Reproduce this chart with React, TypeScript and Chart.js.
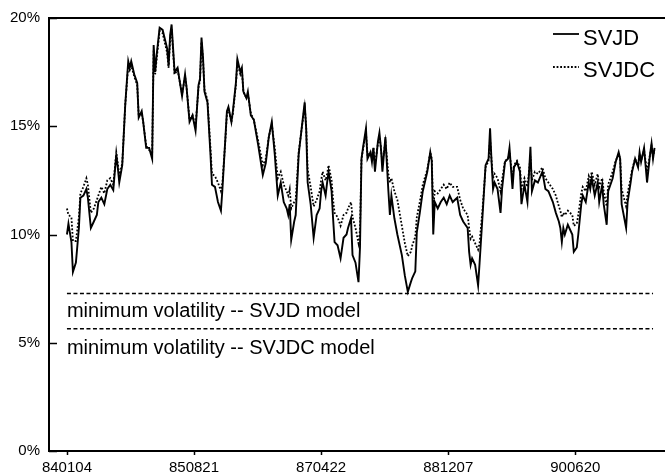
import React, { useEffect, useRef } from 'react';
import { Chart, registerables } from 'chart.js';

Chart.register(...registerables);

// week index since 840104 (weekly observations)
const WEEKS = [
  0, 1, 3, 4, 6, 8, 9, 11, 13, 14,
  16, 18, 20, 21, 23, 25, 27, 29, 31, 33,
  34, 35, 37, 39, 41, 42, 43, 45, 47, 48,
  50, 51, 53, 55, 57, 58, 59, 60, 62, 64,
  67, 68, 69, 70, 72, 74, 77, 79, 80, 82,
  84, 86, 88, 89, 90, 91, 92, 94, 96, 97,
  99, 101, 103, 104, 106, 107, 108, 110, 111, 113,
  114, 116, 117, 118, 120, 121, 123, 125, 128, 131,
  133, 135, 137, 139, 141, 143, 145, 147, 148, 149,
  150, 152, 153, 155, 157, 159, 160, 161, 163, 165,
  167, 169, 170, 171, 173, 174, 175, 177, 178, 179,
  181, 183, 185, 187, 188, 190, 191, 193, 195, 196,
  197, 198, 200, 201, 203, 204, 205, 206, 208, 209,
  210, 211, 213, 215, 216, 217, 219, 221, 224, 226,
  228, 230, 231, 233, 234, 236, 238, 241, 243, 244,
  245, 246, 248, 250, 252, 254, 256, 258, 261, 263,
  265, 268, 269, 270, 271, 273, 275, 276, 278, 280,
  282, 283, 284, 285, 286, 288, 290, 291, 293, 295,
  296, 298, 299, 301, 303, 304, 306, 308, 310, 311,
  313, 315, 318, 320, 322, 325, 327, 329, 330, 331,
  332, 333, 335, 338, 339, 341, 342, 344, 345, 347,
  349, 350, 351, 353, 355, 356, 358, 359, 361, 362,
  365, 367, 369, 370, 371, 374, 375, 377, 378, 380,
  382, 383, 384, 386, 388, 390, 391, 392, 393,
];

const SVJD = [
  10.0, 10.5, 9.65, 8.27, 8.7, 10.3, 11.7, 11.8, 12.1, 11.7,
  10.3, 10.6, 10.9, 11.5, 11.7, 11.4, 12.1, 12.3, 12.05, 13.7,
  13.1, 12.4, 13.2, 16.0, 18.0, 17.7, 18.0, 17.4, 17.0, 15.4,
  15.7, 15.2, 14.0, 14.0, 13.5, 18.75, 17.5, 18.3, 19.55, 19.45,
  18.6, 17.8, 19.2, 19.7, 17.5, 17.7, 16.4, 17.4, 16.8, 15.2,
  15.5, 14.8, 16.9, 17.2, 19.1, 18.2, 16.6, 16.1, 13.7, 12.3,
  12.2, 11.5, 11.1, 12.1, 14.5, 15.7, 15.9, 15.2, 15.7, 17.0,
  18.1, 17.5, 17.7, 16.6, 16.3, 16.6, 15.5, 15.3, 14.1, 12.75,
  13.3, 14.5, 15.2, 13.7, 11.8, 12.4, 11.5, 11.2, 10.9, 11.4,
  9.75, 10.6, 10.9, 13.7, 14.9, 16.1, 14.9, 12.4, 11.4, 9.85,
  10.9, 11.2, 12.0, 12.4, 11.8, 12.4, 12.9, 12.0, 10.75, 9.65,
  9.5, 8.9, 9.85, 10.0, 10.3, 10.75, 9.05, 8.7, 7.8, 9.4,
  13.5, 14.0, 14.9, 13.5, 13.8, 13.35, 14.0, 12.9, 14.3, 14.7,
  14.0, 12.9, 14.5, 12.0, 10.9, 11.8, 10.75, 10.0, 9.05, 8.1,
  7.35, 7.8, 8.0, 8.3, 10.1, 11.0, 12.0, 12.9, 13.8, 13.4,
  10.0, 11.5, 11.2, 11.5, 11.7, 11.4, 11.8, 11.5, 11.7, 10.9,
  10.6, 10.3, 9.2, 8.6, 8.9, 8.6, 7.65, 8.7, 10.9, 13.2,
  13.5, 14.9, 13.35, 12.1, 12.4, 12.1, 11.0, 12.1, 13.35, 13.5,
  14.0, 12.1, 13.1, 13.35, 12.9, 11.4, 12.3, 11.5, 14.05, 12.0,
  12.5, 12.4, 12.9, 12.1, 12.0, 11.5, 11.0, 10.6, 10.3, 9.65,
  10.3, 10.0, 10.45, 10.0, 9.2, 9.4, 10.0, 11.4, 11.8, 11.5,
  12.4, 12.1, 12.6, 11.8, 12.4, 11.5, 12.3, 11.4, 10.45, 12.0,
  12.6, 13.35, 13.8, 13.5, 11.4, 10.3, 11.5, 12.4, 12.9, 13.5,
  13.1, 13.8, 13.35, 14.0, 12.4, 13.7, 14.2, 13.5, 14.0,
];

const SVJDC = [
  11.2, 10.9, 10.8, 9.7, 9.7, 10.8, 11.9, 12.2, 12.6, 12.3,
  11.0, 11.2, 11.6, 11.8, 12.2, 11.9, 12.5, 12.6, 12.3, 13.8,
  13.3, 12.7, 13.3, 16.0, 17.8, 17.6, 17.8, 17.3, 16.9, 15.5,
  15.6, 15.2, 14.1, 13.9, 13.7, 18.5, 17.4, 18.1, 19.4, 19.3,
  18.4, 17.7, 19.0, 19.5, 17.4, 17.6, 16.5, 17.3, 16.8, 15.3,
  15.5, 15.0, 16.8, 17.1, 18.9, 18.1, 16.7, 16.2, 14.0, 12.8,
  12.7, 12.4, 12.0, 12.4, 14.4, 15.6, 15.8, 15.2, 15.6, 16.9,
  17.9, 17.4, 17.6, 16.6, 16.3, 16.5, 15.6, 15.3, 14.3, 13.2,
  13.5, 14.5, 15.1, 14.0, 12.6, 12.9, 12.3, 12.0, 11.8, 12.1,
  11.2, 11.5, 11.6, 13.8, 14.9, 15.9, 15.0, 13.0, 12.2, 11.3,
  11.6, 12.0, 12.5, 12.9, 12.5, 12.8, 13.2, 12.5, 11.6, 11.0,
  10.8, 10.4, 10.9, 11.0, 11.2, 11.5, 10.8, 10.3, 9.6, 10.2,
  13.5, 13.9, 14.7, 13.7, 13.8, 13.5, 14.0, 13.2, 14.2, 14.5,
  14.0, 13.3, 14.3, 12.8, 12.4, 12.6, 12.0, 11.6, 10.4, 9.6,
  9.0, 9.2, 9.5, 9.9, 10.8, 11.5, 12.3, 13.0, 13.8, 13.5,
  11.2, 12.0, 11.9, 12.1, 12.3, 12.1, 12.4, 12.2, 12.2, 11.6,
  11.2, 10.9, 10.3, 9.8, 9.9, 9.6, 9.3, 9.6, 11.2, 13.1,
  13.4, 14.4, 13.4, 12.6, 12.8, 12.6, 12.0, 12.5, 13.4, 13.5,
  13.8, 12.6, 13.2, 13.4, 13.1, 12.1, 12.6, 12.2, 13.6, 12.5,
  12.9, 12.8, 13.1, 12.6, 12.4, 12.1, 11.8, 11.3, 11.1, 10.8,
  11.0, 10.9, 11.1, 10.9, 10.4, 10.5, 10.9, 11.9, 12.2, 12.0,
  12.7, 12.5, 12.9, 12.3, 12.8, 12.2, 12.6, 12.0, 11.3, 12.3,
  12.9, 13.4, 13.7, 13.5, 12.1, 11.3, 11.9, 12.6, 13.0, 13.5,
  13.2, 13.7, 13.4, 13.9, 12.9, 13.7, 14.1, 13.6, 13.9,
];

const TICK_WEEKS = [0, 85, 170, 255, 340];
const TICK_LABELS = ['840104', '850821', '870422', '881207', '900620'];
const Y_TICKS = [0, 5, 10, 15, 20];

const MIN_VOL_SVJD = 7.28;
const MIN_VOL_SVJDC = 5.65;
const MIN_LINE_WEEKS = [0, 392];

const SERIES_LABELS = ['SVJD', 'SVJDC'];
const NOTE_LABELS = ['minimum volatility -- SVJD model', 'minimum volatility -- SVJDC model'];

const FONT = '"Liberation Sans", Arial, Helvetica, sans-serif';

const decorPlugin = {
  id: 'decor',
  afterDraw(chart: any) {
    const { ctx, chartArea: ca } = chart;
    const x = chart.scales.x;
    const y = chart.scales.y;
    ctx.save();
    ctx.strokeStyle = '#000';
    ctx.fillStyle = '#000';
    ctx.setLineDash([]);
    // top frame line
    ctx.lineWidth = 2;
    ctx.beginPath();
    ctx.moveTo(ca.left, ca.top);
    ctx.lineTo(ca.right, ca.top);
    ctx.stroke();
    // inward y ticks
    ctx.lineWidth = 1.5;
    ctx.beginPath();
    Y_TICKS.forEach((v) => {
      const py = Math.round(y.getPixelForValue(v)) + 0.5;
      ctx.moveTo(ca.left, py);
      ctx.lineTo(ca.left + 8, py);
    });
    // short x ticks below axis
    TICK_WEEKS.forEach((v) => {
      const px = Math.round(x.getPixelForValue(v)) + 0.5;
      ctx.moveTo(px, ca.bottom);
      ctx.lineTo(px, ca.bottom + 4);
    });
    ctx.stroke();
    // notes under minimum lines
    ctx.font = '20px ' + FONT;
    ctx.textAlign = 'left';
    ctx.textBaseline = 'alphabetic';
    const nx = x.getPixelForValue(MIN_LINE_WEEKS[0]);
    ctx.fillText(NOTE_LABELS[0], nx, y.getPixelForValue(MIN_VOL_SVJD) + 24);
    ctx.fillText(NOTE_LABELS[1], nx, y.getPixelForValue(MIN_VOL_SVJDC) + 25);
    // legend
    ctx.font = '22px ' + FONT;
    const lx0 = ca.right - 112;
    const lx1 = ca.right - 86;
    const tx = ca.right - 82;
    const rows = [
      { lineY: ca.top + 16, baseY: ca.top + 27, dash: [] as number[] },
      { lineY: ca.top + 49, baseY: ca.top + 59, dash: [1.8, 1.8] },
    ];
    rows.forEach((r, i) => {
      ctx.lineWidth = 1.8;
      ctx.setLineDash(r.dash);
      ctx.beginPath();
      ctx.moveTo(lx0, r.lineY);
      ctx.lineTo(lx1, r.lineY);
      ctx.stroke();
      ctx.setLineDash([]);
      ctx.fillText(SERIES_LABELS[i], tx, r.baseY);
    });
    ctx.restore();
  },
};

export default function App() {
  const ref = useRef<HTMLCanvasElement | null>(null);
  useEffect(() => {
    if (!ref.current) return;
    const toXY = (vals: number[]) => WEEKS.map((w, i) => ({ x: w, y: vals[i] }));
    const chart = new Chart(ref.current, {
      type: 'line',
      data: {
        datasets: [
          {
            label: SERIES_LABELS[0],
            data: toXY(SVJD),
            borderColor: '#000',
            borderWidth: 1.9,
            pointRadius: 0,
            tension: 0,
          },
          {
            label: SERIES_LABELS[1],
            data: toXY(SVJDC),
            borderColor: '#000',
            borderWidth: 1.8,
            borderDash: [1.8, 1.8],
            pointRadius: 0,
            tension: 0,
          },
          {
            label: NOTE_LABELS[0],
            data: MIN_LINE_WEEKS.map((w) => ({ x: w, y: MIN_VOL_SVJD })),
            borderColor: '#000',
            borderWidth: 1.5,
            borderDash: [4, 2.5],
            pointRadius: 0,
          },
          {
            label: NOTE_LABELS[1],
            data: MIN_LINE_WEEKS.map((w) => ({ x: w, y: MIN_VOL_SVJDC })),
            borderColor: '#000',
            borderWidth: 1.5,
            borderDash: [4, 2.5],
            pointRadius: 0,
          },
        ],
      },
      options: {
        responsive: false,
        animation: false,
        layout: { padding: { top: 18, right: 0, left: 0, bottom: 0 } },
        plugins: { legend: { display: false }, tooltip: { enabled: false } },
        scales: {
          x: {
            type: 'linear',
            min: -12,
            max: 400,
            afterBuildTicks: (s: any) => {
              s.ticks = TICK_WEEKS.map((v) => ({ value: v }));
            },
            afterFit: (s: any) => {
              s.height = 23;
            },
            ticks: {
              autoSkip: false,
              maxRotation: 0,
              padding: 8,
              color: '#000',
              font: { size: 15, family: FONT },
              callback: (_v: any, i: number) => TICK_LABELS[i],
            },
            grid: { display: false, drawTicks: false },
            border: { display: true, color: '#000', width: 2 },
          },
          y: {
            min: 0,
            max: 20,
            afterBuildTicks: (s: any) => {
              s.ticks = Y_TICKS.map((v) => ({ value: v }));
            },
            afterFit: (s: any) => {
              s.width = 49;
            },
            ticks: {
              padding: 9,
              color: '#000',
              font: { size: 15, family: FONT },
              callback: (v: any) => v + '%',
            },
            grid: { display: false, drawTicks: false },
            border: { display: true, color: '#000', width: 2 },
          },
        },
      },
      plugins: [decorPlugin],
    });
    return () => chart.destroy();
  }, []);
  return (
    <div style={{ position: 'absolute', left: 0, top: 0, width: 665, height: 474, background: '#fff' }}>
      <canvas ref={ref} width={665} height={474} style={{ display: 'block' }} />
    </div>
  );
}
